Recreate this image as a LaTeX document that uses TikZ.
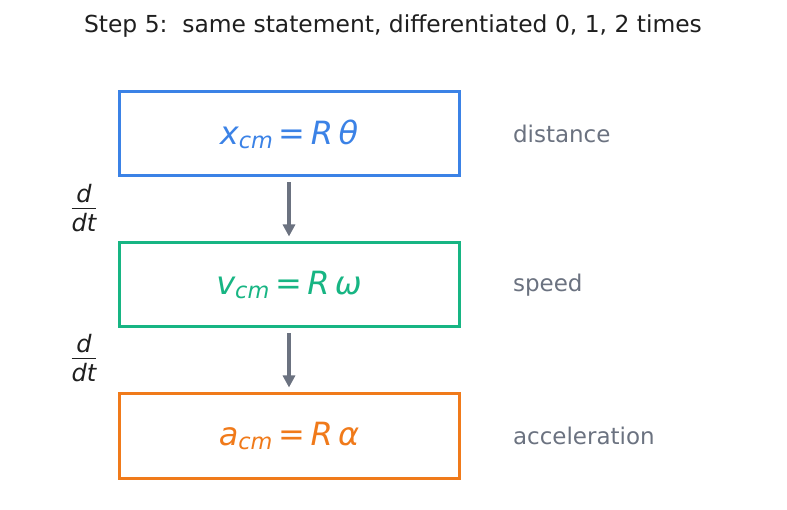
\documentclass[tikz,border=0pt]{standalone}
\usepackage{fontspec}
\setmainfont{DejaVu Sans}
\usetikzlibrary{arrows.meta, positioning}
\definecolor{eqBlue}{HTML}{3B82E6}
\definecolor{eqGreen}{HTML}{17B583}
\definecolor{eqOrange}{HTML}{F07A1A}
\definecolor{textMuted}{HTML}{6B7280}
\definecolor{textDark}{HTML}{1F1F1F}
\newcommand{\eqline}[2]{{\itshape #1}\textsubscript{\itshape cm}\,=\,{\itshape R\,#2}}
\newcommand{\ddtfrac}{\renewcommand{\arraystretch}{0.8}\setlength{\arrayrulewidth}{1.2pt}%
  \begin{tabular}{@{}c@{}}\itshape d\\[-1pt]\hline\noalign{\vskip4pt}\itshape dt\end{tabular}}
\tikzset{
  arrowG/.style={-{Triangle[length=12pt, width=12pt]}, draw=textMuted, line width=3.2pt},
  eqbox/.style={rectangle, line width=3pt, minimum width=340pt, minimum height=84pt,
                inner sep=0pt, font=\fontsize{32}{36}\selectfont},
  tagtext/.style={text=textMuted, anchor=west, font=\fontsize{23}{26}\selectfont},
  ddt/.style={text=textDark, font=\fontsize{24}{26}\selectfont, inner sep=0pt},
}
\begin{document}
\begin{tikzpicture}[x=1pt, y=-1pt, node distance=64pt and 49pt]
    \useasboundingbox (0,0) rectangle (787,510);
    \node[text=textDark, font=\fontsize{23.4}{26}\selectfont] (title) at (393,26)
          {Step 5:\ \ same statement, differentiated 0, 1, 2 times};
    \node[eqbox, draw=eqBlue, text=eqBlue] (xbox) at (289,134) {\eqline{x}{θ}};
    \node[eqbox, draw=eqGreen, text=eqGreen, below=of xbox] (vbox) {\eqline{v}{ω}};
    \node[eqbox, draw=eqOrange, text=eqOrange, below=of vbox] (abox) {\eqline{a}{α}};
    \node[tagtext, right=of xbox] (xtag) {distance};
    \node[tagtext, right=of vbox] (vtag) {speed};
    \node[tagtext, right=of abox] (atag) {acceleration};
    \node[ddt] (ddt1) at (84,211) {\ddtfrac};
    \node[ddt] (ddt2) at (84,361) {\ddtfrac};
    \draw[arrowG, shorten <=5pt, shorten >=5pt] (xbox) -- (vbox);
    \draw[arrowG, shorten <=5pt, shorten >=5pt] (vbox) -- (abox);
\end{tikzpicture}
\end{document}
